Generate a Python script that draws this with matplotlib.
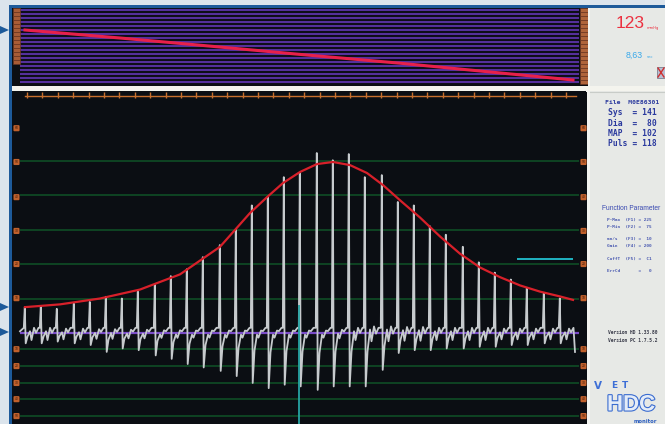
import matplotlib
matplotlib.use('Agg')
import matplotlib.pyplot as plt
from matplotlib.patches import Rectangle, Polygon
import matplotlib.patheffects as pe
import numpy as np

# ---------------- data ----------------
# top panel: cuff pressure (mmHg) during deflation
cuff_t = [25, 120, 200, 300, 400, 480, 573]
cuff_p = [140, 120, 102, 79, 57, 37.5, 15]

# main panel: oscillation envelope
env_t = [25, 60, 100, 140, 180, 220, 250, 267, 283, 300, 317, 333, 350, 367,
         383, 400, 420, 440, 460, 480, 500, 520, 540, 560, 573]
env_v = [7.5, 8.3, 10.0, 12.6, 17.0, 25.0, 34.8, 39.4, 43.5, 46.7, 49.0, 49.6,
         48.7, 46.4, 42.9, 38.5, 33.5, 28.0, 23.0, 19.0, 16.2, 13.8, 12.0, 10.6, 9.6]

# main panel: individual pulses (position, peak, trough, noise)
pulse_t = [25, 41, 57, 74, 90, 106, 122, 138, 155, 171, 187, 203, 220, 236, 252,
           268, 284, 300, 317, 333, 349, 365, 382, 398, 414, 430, 446, 463, 479,
           495, 511, 527, 544, 560]
pulse_peak = [7.5, 7.8, 7.0, 8.5, 9.0, 10.5, 10.0, 12.0, 14.0, 16.5, 18.5, 22.0,
              25.5, 30.0, 37.0, 39.4, 45.2, 46.4, 52.2, 50.1, 51.9, 45.2, 45.8,
              38.0, 37.0, 31.0, 28.5, 25.0, 20.5, 17.5, 15.5, 13.0, 11.5, 10.0]
pulse_trough = [-3, -3, -2.5, -3, -3.5, -5.5, -4.5, -5, -6.5, -7.5, -9, -10, -11,
                -12.5, -14.5, -16, -15, -15.5, -16.5, -15.5, -15.5, -15.5, -10.7,
                -5.8, -5, -5, -4.5, -4.5, -4, -4, -3.5, -3.5, -3, -3]
pulse_noise = [1.5, 1.5, 1.2, 1.2, 1.0, 1.0, 0.8, 0.8, 0.6, 0.6, 0.5, 0.5, 0.5,
               0.5, 0.5, 0.5, 0.5, 0.5, 0.5, 0.8, 1.5, 2.0, 2.0, 1.8, 1.8, 1.5,
               1.5, 1.5, 1.5, 1.2, 1.2, 1.2, 1.2, 1.2]
sig_start = (20, 0.5)
sig_end = (575, -5.5)

grid_upper = [10, 20, 30, 40, 50]
grid_lower = [-4.7, -9.6, -14.5, -19.2, -24.1]
label_pos = [59.4, 49.6, 39.4, 29.6, 20, 10.1, -4.7, -9.6, -14.5, -19.2, -24.1]
label_txt = ['60', '50', '40', '30', '20', '10', '10', '20', '30', '40', '50']

cursor_t = 299
cursor_top = 8.1
marker_t = [517, 573]
marker_v = 21.4

sys_v, dia_v, map_v, puls_v = 141, 80, 102, 118
pressure_now = '123'
elapsed = '8,63'
file_name = 'M0E86301'
params = ['P-Max  (F1) = 225', 'P-Min  (F2) =  75', '', 'mm/s   (F3) =  10',
          'Gain   (F4) = 200', '', 'CuffT  (F5) =  C1', '', 'ErrCd       =   0']
versions = ['Version HD 1.33.80', 'Version PC 1.7.5.2']

# ---------------- figure ----------------
W, H = 665, 424
fig = plt.figure(figsize=(W / 100, H / 100), dpi=100)
fig.patch.set_facecolor('#dbe4ec')

ov = fig.add_axes([0, 0, 1, 1])
ov.set_xlim(0, W)
ov.set_ylim(H, 0)
ov.axis('off')

BLUE = '#1d5a9a'
# outer frame
ov.add_patch(Rectangle((9, 5), W - 9, H - 5, facecolor=BLUE, edgecolor='none'))
ov.add_patch(Rectangle((12, 8), 576, H - 8, facecolor='#0b0e13', edgecolor='none'))
# right panel
ov.add_patch(Rectangle((586, 8), 4, H - 8, facecolor='#f3f4f0', edgecolor='none'))
ov.add_patch(Rectangle((590, 8), W - 590, H - 8, facecolor='#e7e9e6', edgecolor='none'))
# white separator strip
ov.add_patch(Rectangle((12, 86), W - 12, 5, facecolor='#f4f4ee', edgecolor='none'))
ov.plot([590, W], [91.5, 91.5], color='#c8ccc8', lw=0.8)

# arrows on the left
for yy in (30, 307, 332):
    ov.add_patch(Polygon([(0, yy - 4), (9, yy), (0, yy + 4)], closed=True,
                         facecolor=BLUE, edgecolor='none'))

# ---------------- top panel ----------------
axt = fig.add_axes([12 / W, (H - 86) / H, 576 / W, 78 / H])
axt.set_facecolor('#0b0e13')
axt.set_xlim(12, 588)
axt.set_ylim(0, 195)
for s in axt.spines.values():
    s.set_visible(False)
axt.set_xticks([])
axt.set_yticks([])
axt.hlines(np.arange(10, 200, 10), 20, 579, color='#55309c', lw=1.5, zorder=1)
# orange scale strips
for v in np.arange(60, 200, 10):
    axt.add_patch(Rectangle((12.5, v - 4), 7, 8, facecolor='#a85c36',
                            edgecolor='#6a3420', lw=0.4, zorder=2))
for v in np.arange(10, 200, 10):
    axt.add_patch(Rectangle((580, v - 4.5), 7.5, 9, facecolor='#b0643a',
                            edgecolor='#6a3420', lw=0.4, zorder=2))
axt.plot(cuff_t, cuff_p, color='#e8204a', lw=2.2, zorder=3)

# ---------------- main panel ----------------
ax = fig.add_axes([12 / W, 0, 575 / W, 332 / H])
ax.set_facecolor('#0b0e13')
ax.set_xlim(12, 587)
ax.set_ylim(-26.4, 69.9)
for s in ax.spines.values():
    s.set_visible(False)
ax.set_yticks([])
ax.set_xticks(np.arange(27, 580, 15.4))
ax.tick_params(axis='x', top=True, bottom=False, direction='in', length=4,
               width=1, color='#c8702e', labeltop=False, labelbottom=False)
ax.axhline(68.8, xmin=(25 - 12) / 575, xmax=(576 - 12) / 575, color='#c8702e', lw=1)

ax.hlines(grid_upper + grid_lower, 20, 579, color='#0f4d26', lw=1.2, zorder=1)
ax.hlines(0, 20, 579, color='#7a4cc8', lw=1.6, zorder=2)

for v, t in zip(label_pos, label_txt):
    for xx in (16.5, 583.5):
        ax.text(xx, v, t, fontsize=2.2, color='#3a1a0a', ha='center', va='center',
                bbox=dict(boxstyle='round,pad=0.35', fc='#c0602c', ec='none'),
                zorder=4)

# signal
sig_t = [sig_start[0]]
sig_v = [sig_start[1]]
for t, pk, tr, nz in zip(pulse_t, pulse_peak, pulse_trough, pulse_noise):
    sig_t += [t - 1.2, t - 0.2, t + 0.7, t + 2.5, t + 5, t + 6.5, t + 9, t + 11, t + 13.5]
    sig_v += [1.5, pk, tr, tr * 0.35, -1.0 + nz, -1.0 - nz * 0.7, 0.3 + nz * 0.8,
              0.8 - nz * 0.5, 1.5]
sig_t.append(sig_end[0])
sig_v.append(sig_end[1])
ax.plot(sig_t, sig_v, color='#c6cacd', lw=1.3, zorder=3)

ax.plot(env_t, env_v, color='#d8202a', lw=1.6, zorder=4)
ax.vlines(cursor_t, -30, cursor_top, color='#26a4a4', lw=1.3, zorder=5)
ax.hlines(marker_v, marker_t[0], marker_t[1], color='#22c0d0', lw=1.3, zorder=5)

# ---------------- right panel texts ----------------
ov.text(630, 24, pressure_now, fontsize=12.5, color='#ec3040', ha='center', va='center',
        family='Liberation Sans')
ov.text(647, 27.5, 'mmHg', fontsize=2.6, color='#ec3040', ha='left', va='center')
ov.text(634, 55.5, elapsed, fontsize=6.3, color='#38a8ea', ha='center', va='center',
        family='Liberation Sans')
ov.text(647, 56.5, 'sec', fontsize=2.8, color='#38a8ea', ha='left', va='center')
ov.add_patch(Rectangle((657, 67), 8, 11, facecolor='#b8c0d4', edgecolor='#6a7080', lw=0.5))
ov.plot([658, 664], [68, 77], color='#d03030', lw=1)
ov.plot([658, 664], [77, 68], color='#d03030', lw=1)

mono = dict(family='DejaVu Sans Mono', fontweight='bold', color='#2b3a9e')
ov.text(605, 102, 'File  ' + file_name, fontsize=4.6, va='center', **mono)
ov.text(608, 112.5, f'Sys  = {sys_v:3d}', fontsize=5.8, va='center', **mono)
ov.text(608, 123, f'Dia  = {dia_v:3d}', fontsize=5.8, va='center', **mono)
ov.text(608, 133.5, f'MAP  = {map_v:3d}', fontsize=5.8, va='center', **mono)
ov.text(608, 144, f'Puls = {puls_v:3d}', fontsize=5.8, va='center', **mono)

ov.text(602.5, 209, 'Function Parameter', fontsize=4.8, color='#3848b0', va='center',
        family='Liberation Sans')
y0 = 220
for i, line in enumerate(params):
    if line:
        ov.text(607, y0 + i * 6.4, line, fontsize=3.2, va='center',
                family='DejaVu Sans Mono', fontweight='bold', color='#4858b0')

for i, line in enumerate(versions):
    ov.text(608, 333 + i * 7, line, fontsize=3.3, va='center',
            family='DejaVu Sans Mono', fontweight='bold', color='#3a3c4a')

# logo
ov.text(594, 386, 'V', fontsize=7.5, color='#3d6fd6', fontweight='bold', va='center')
ov.text(611, 386, 'E', fontsize=6.5, color='#3d6fd6', fontweight='bold', va='center')
ov.text(622, 386, 'T', fontsize=6.5, color='#3d6fd6', fontweight='bold', va='center')
t = ov.text(607, 405, 'HDC', fontsize=16, color='#e4ecf8', fontweight='bold', va='center',
            family='Liberation Sans')
t.set_path_effects([pe.withStroke(linewidth=1.6, foreground='#3a6cd0')])
ov.text(634, 421.5, 'monitor', fontsize=3.8, color='#2d5fc0', fontweight='bold', va='center')

fig.savefig('out.png', dpi=100, facecolor=fig.get_facecolor())
